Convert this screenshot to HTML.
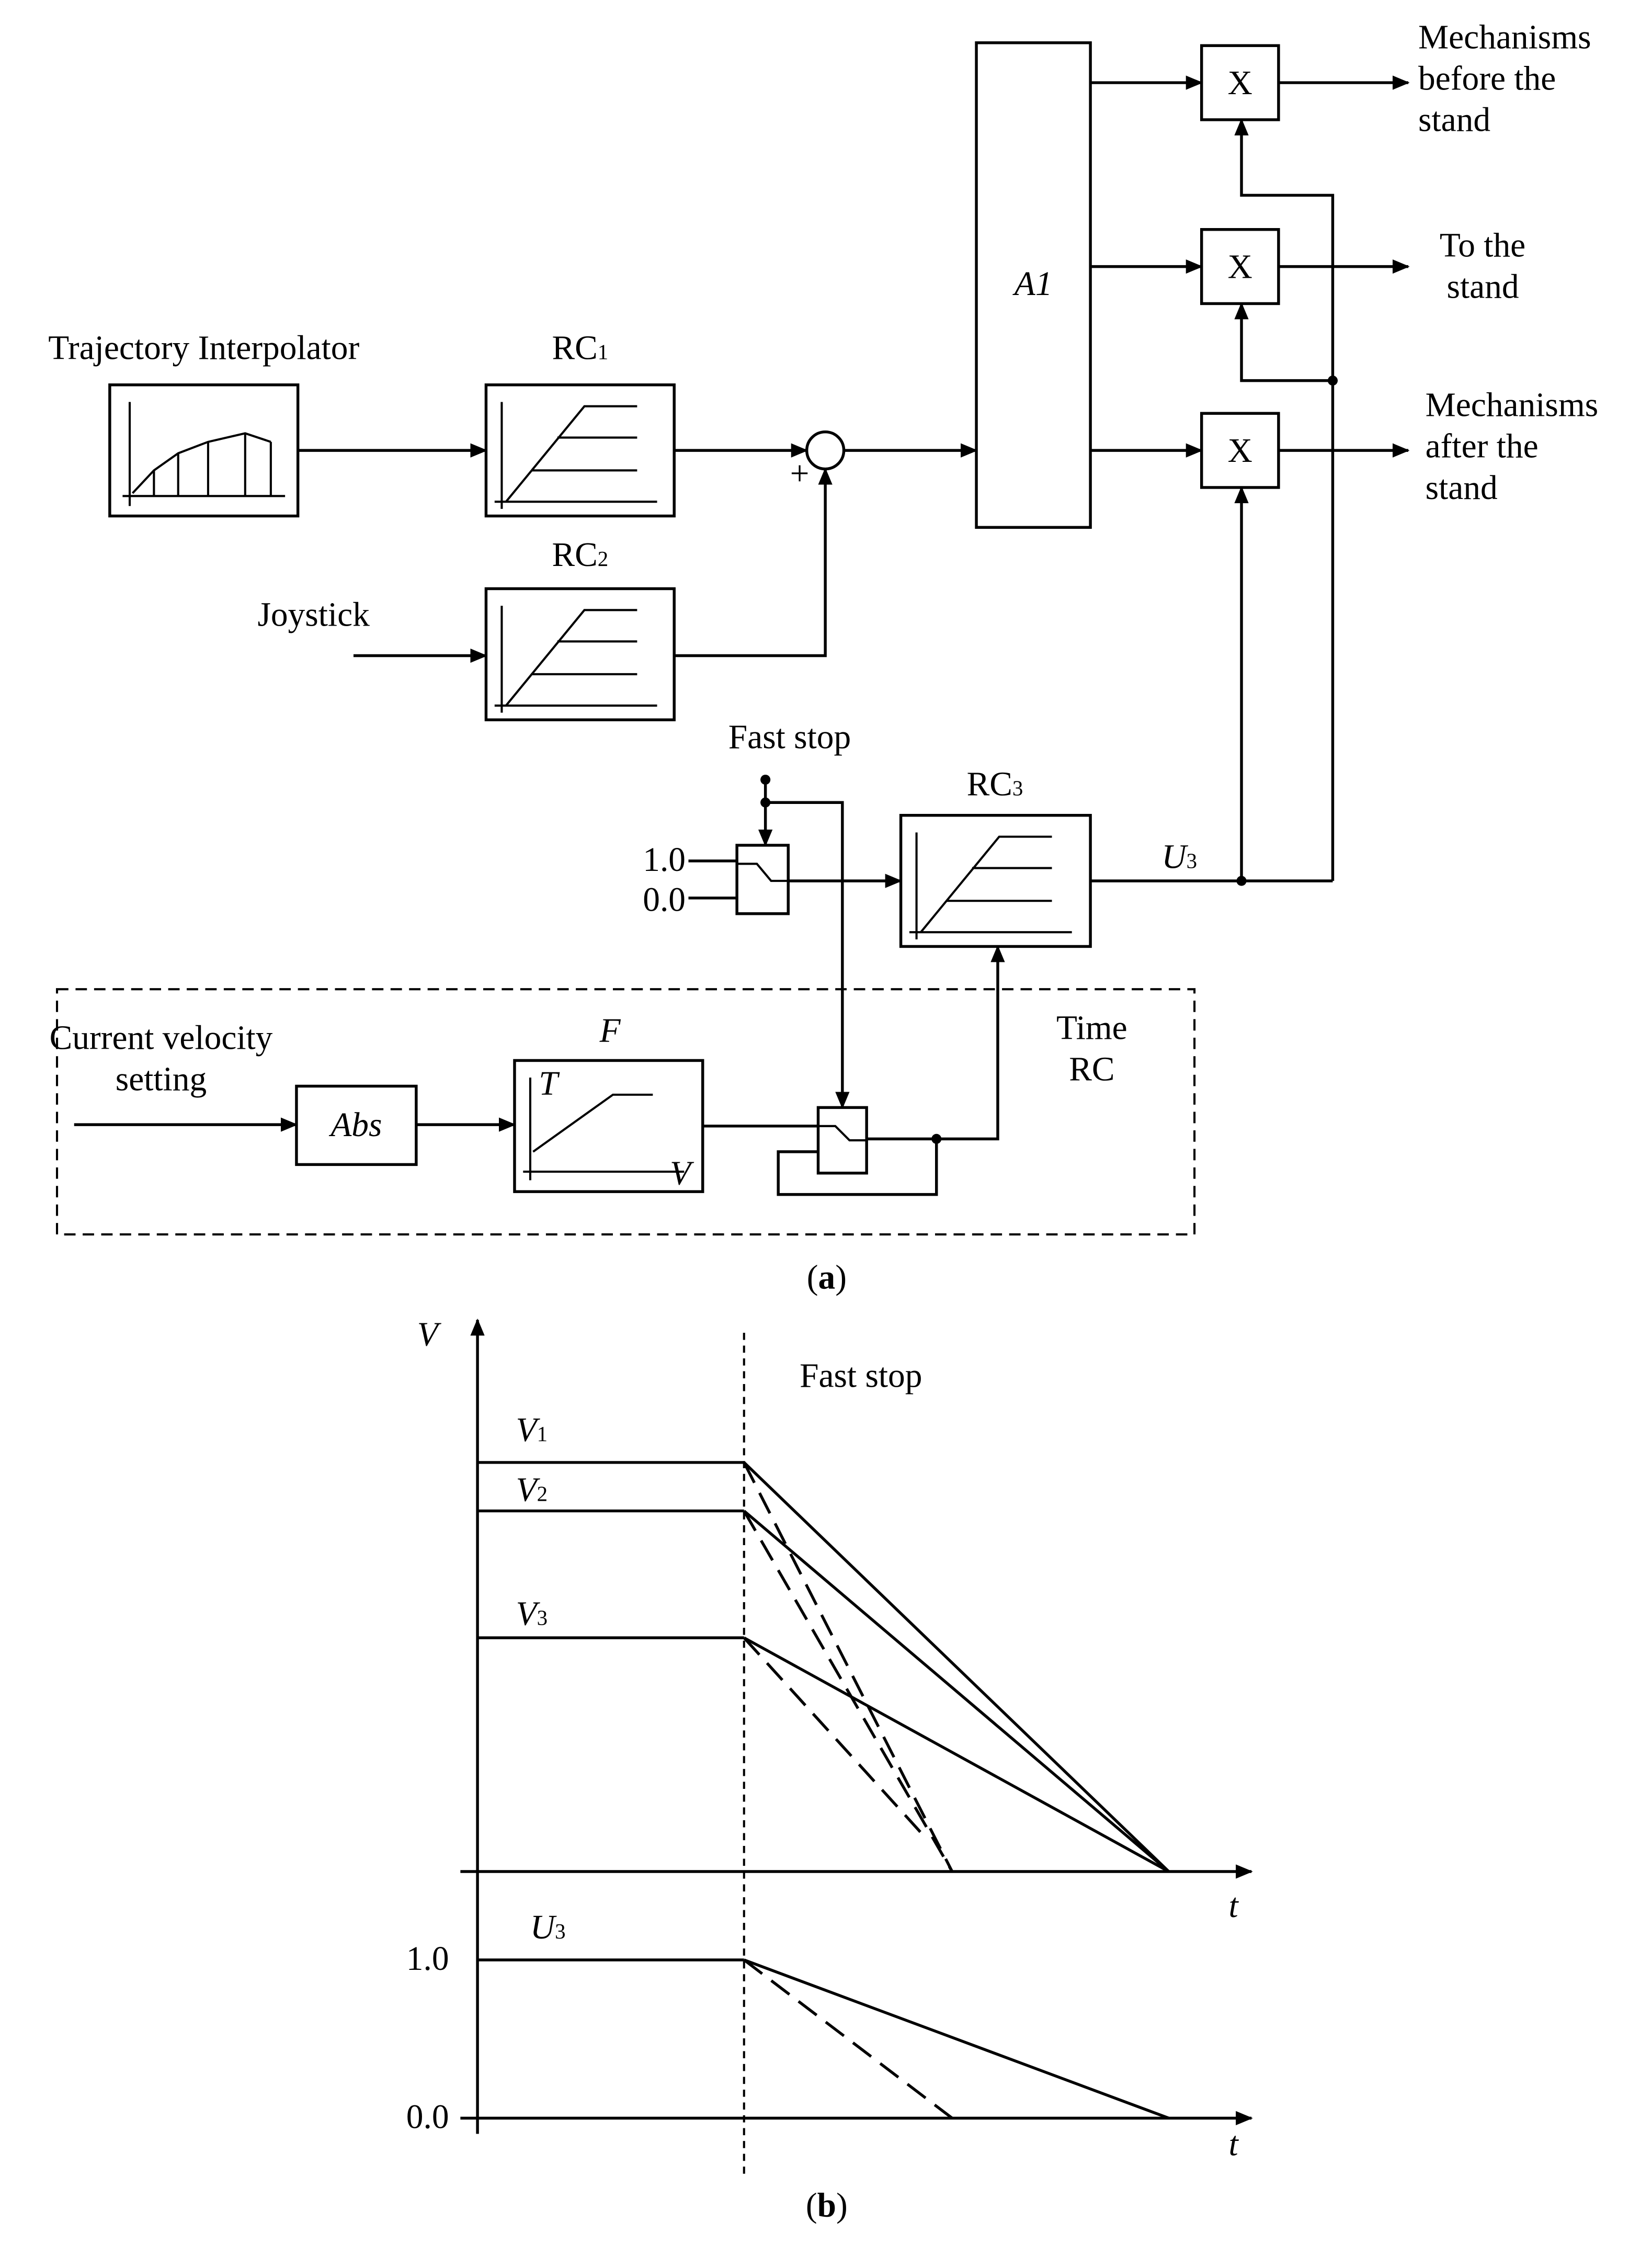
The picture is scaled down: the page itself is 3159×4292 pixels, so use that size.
<!DOCTYPE html>
<html><head><meta charset="utf-8"><style>
html,body{margin:0;padding:0;background:#fff}
svg{display:block}
text{font-family:"Liberation Serif",serif;font-size:24px;fill:#000}
.i{font-style:italic}
</style></head><body>
<svg width="3159" height="4292" viewBox="0 0 1159 1575" preserveAspectRatio="none" xmlns="http://www.w3.org/2000/svg">
<defs>
<marker id="a" markerWidth="12" markerHeight="10" refX="11" refY="5" orient="auto" markerUnits="userSpaceOnUse"><path d="M0,0 L12,5 L0,10 Z" fill="#000"/></marker>
<g id="rc">
<line x1="11" y1="12" x2="11" y2="87" stroke="#000" stroke-width="1.5"/>
<line x1="6" y1="82" x2="120" y2="82" stroke="#000" stroke-width="1.5"/>
<polyline points="14,82 69,15 106,15" fill="none" stroke="#000" stroke-width="1.5"/>
<line x1="50" y1="37" x2="106" y2="37" stroke="#000" stroke-width="1.5"/>
<line x1="32" y1="60" x2="106" y2="60" stroke="#000" stroke-width="1.5"/>
</g>
</defs>
<g stroke="#000" stroke-width="2" fill="none">
<rect x="685" y="30" width="80" height="340"/>
<rect x="843" y="32" width="54" height="52"/>
<rect x="843" y="161" width="54" height="52"/>
<rect x="843" y="290" width="54" height="52"/>
<line x1="765" y1="58" x2="843" y2="58" marker-end="url(#a)"/>
<line x1="765" y1="187" x2="843" y2="187" marker-end="url(#a)"/>
<line x1="765" y1="316" x2="843" y2="316" marker-end="url(#a)"/>
<line x1="897" y1="58" x2="988" y2="58" marker-end="url(#a)"/>
<line x1="897" y1="187" x2="988" y2="187" marker-end="url(#a)"/>
<line x1="897" y1="316" x2="988" y2="316" marker-end="url(#a)"/>
<polyline points="935,618 935,137 871,137 871,84" marker-end="url(#a)"/>
<polyline points="935,267 871,267 871,213" marker-end="url(#a)"/>
<polyline points="871,618 871,342" marker-end="url(#a)"/>
<line x1="765" y1="618" x2="935" y2="618"/>
<rect x="77" y="270" width="132" height="92"/>
<rect x="341" y="270" width="132" height="92"/>
<rect x="341" y="413" width="132" height="92"/>
<line x1="209" y1="316" x2="341" y2="316" marker-end="url(#a)"/>
<line x1="473" y1="316" x2="566" y2="316" marker-end="url(#a)"/>
<circle cx="579" cy="316" r="13"/>
<line x1="592" y1="316" x2="685" y2="316" marker-end="url(#a)"/>
<line x1="248" y1="460" x2="341" y2="460" marker-end="url(#a)"/>
<polyline points="473,460 579,460 579,329" marker-end="url(#a)"/>
<rect x="632" y="572" width="133" height="92"/>
<rect x="517" y="593" width="36" height="48"/>
<line x1="483" y1="604" x2="517" y2="604"/>
<line x1="483" y1="630" x2="517" y2="630"/>
<polyline points="517,606 531,606 541,618 553,618" stroke-width="1.5"/>
<line x1="553" y1="618" x2="632" y2="618" marker-end="url(#a)"/>
<line x1="537" y1="547" x2="537" y2="593" marker-end="url(#a)"/>
<polyline points="537,563 591,563 591,777" marker-end="url(#a)"/>
<rect x="40" y="694" width="798" height="172" stroke-width="1.5" stroke-dasharray="8,5"/>
<line x1="52" y1="789" x2="208" y2="789" marker-end="url(#a)"/>
<rect x="208" y="762" width="84" height="55"/>
<line x1="292" y1="789" x2="361" y2="789" marker-end="url(#a)"/>
<rect x="361" y="744" width="132" height="92"/>
<rect x="574" y="777" width="34" height="46"/>
<polyline points="493,790 574,790"/>
<polyline points="574,790 586,790 596,800 608,800" stroke-width="1.5"/>
<polyline points="574,808 546,808 546,838 657,838 657,799"/>
<polyline points="608,799 700,799 700,664" marker-end="url(#a)"/>
<line x1="335" y1="1497" x2="335" y2="926" marker-end="url(#a)"/>
<line x1="323" y1="1313" x2="878" y2="1313" marker-end="url(#a)"/>
<line x1="323" y1="1486" x2="878" y2="1486" marker-end="url(#a)"/>
<line x1="522" y1="935" x2="522" y2="1527" stroke-width="1.5" stroke-dasharray="5,4"/>
<line x1="335" y1="1026" x2="522" y2="1026"/>
<line x1="335" y1="1060" x2="522" y2="1060"/>
<line x1="335" y1="1149" x2="522" y2="1149"/>
<line x1="522" y1="1026" x2="820" y2="1313"/>
<line x1="522" y1="1060" x2="820" y2="1313"/>
<line x1="522" y1="1149" x2="820" y2="1313"/>
<g stroke-dasharray="16,8">
<line x1="522" y1="1026" x2="668" y2="1313"/>
<line x1="522" y1="1060" x2="668" y2="1313"/>
<line x1="522" y1="1149" x2="650" y2="1290"/>
<line x1="522" y1="1375" x2="668" y2="1486"/>
</g>
<line x1="335" y1="1375" x2="522" y2="1375"/>
<line x1="522" y1="1375" x2="820" y2="1486"/>
</g>
<g stroke="#000" stroke-width="1.5" fill="none">
<line x1="91" y1="282" x2="91" y2="355"/>
<line x1="86" y1="348" x2="200" y2="348"/>
<path d="M93,346 L108,330 L125,318 L146,310 L172,304 L190,310"/>
<line x1="108" y1="330" x2="108" y2="348"/>
<line x1="125" y1="318" x2="125" y2="348"/>
<line x1="146" y1="310" x2="146" y2="348"/>
<line x1="172" y1="304" x2="172" y2="348"/>
<line x1="190" y1="310" x2="190" y2="348"/>
<line x1="372" y1="756" x2="372" y2="828"/>
<line x1="367" y1="822" x2="480" y2="822"/>
<polyline points="374,808 430,768 458,768"/>
</g>
<use href="#rc" x="341" y="270"/>
<use href="#rc" x="341" y="413"/>
<use href="#rc" x="632" y="572"/>
<g fill="#000">
<circle cx="935" cy="267" r="3.5"/><circle cx="871" cy="618" r="3.5"/>
<circle cx="537" cy="547" r="3.5"/><circle cx="537" cy="563" r="3.5"/>
<circle cx="657" cy="799" r="3.5"/>
</g>
<text x="725" y="207" text-anchor="middle" class="i">A1</text>
<text x="870" y="66" text-anchor="middle">X</text>
<text x="870" y="195" text-anchor="middle">X</text>
<text x="870" y="324" text-anchor="middle">X</text>
<text x="995" y="34">Mechanisms</text><text x="995" y="63">before the</text><text x="995" y="92">stand</text>
<text x="1010" y="180">To the</text><text x="1015" y="209">stand</text>
<text x="1000" y="292">Mechanisms</text><text x="1000" y="321">after the</text><text x="1000" y="350">stand</text>
<text x="143" y="252" text-anchor="middle">Trajectory Interpolator</text>
<text x="407" y="252" text-anchor="middle">RC<tspan font-size="15">1</tspan></text>
<text x="407" y="397" text-anchor="middle">RC<tspan font-size="15">2</tspan></text>
<text x="698" y="558" text-anchor="middle">RC<tspan font-size="15">3</tspan></text>
<text x="561" y="340" font-size="16" text-anchor="middle">+</text>
<text x="220" y="439" text-anchor="middle">Joystick</text>
<text x="554" y="525" text-anchor="middle">Fast stop</text>
<text x="466" y="611" text-anchor="middle">1.0</text>
<text x="466" y="639" text-anchor="middle">0.0</text>
<text x="815" y="609" class="i">U<tspan font-size="15" font-style="normal">3</tspan></text>
<text x="113" y="736" text-anchor="middle">Current velocity</text>
<text x="113" y="765" text-anchor="middle">setting</text>
<text x="766" y="729" text-anchor="middle">Time</text>
<text x="766" y="758" text-anchor="middle">RC</text>
<text x="428" y="731" text-anchor="middle" class="i">F</text>
<text x="250" y="797" text-anchor="middle" class="i">Abs</text>
<text x="378" y="768" class="i">T</text>
<text x="470" y="831" class="i">V</text>
<text x="580" y="904" text-anchor="middle">(<tspan font-weight="bold">a</tspan>)</text>
<text x="300" y="944" text-anchor="middle" class="i">V</text>
<text x="604" y="973" text-anchor="middle">Fast stop</text>
<text x="362" y="1011" class="i">V<tspan font-size="15" font-style="normal">1</tspan></text>
<text x="362" y="1053" class="i">V<tspan font-size="15" font-style="normal">2</tspan></text>
<text x="362" y="1140" class="i">V<tspan font-size="15" font-style="normal">3</tspan></text>
<text x="862" y="1345" class="i">t</text>
<text x="300" y="1382" text-anchor="middle">1.0</text>
<text x="300" y="1493" text-anchor="middle">0.0</text>
<text x="372" y="1360" class="i">U<tspan font-size="15" font-style="normal">3</tspan></text>
<text x="862" y="1512" class="i">t</text>
<text x="580" y="1555" text-anchor="middle">(<tspan font-weight="bold">b</tspan>)</text>
</svg>
</body></html>
